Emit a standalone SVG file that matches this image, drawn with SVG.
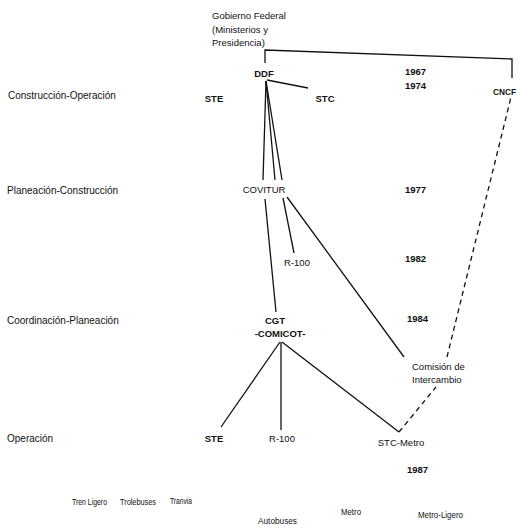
<svg xmlns="http://www.w3.org/2000/svg" width="520" height="528" viewBox="0 0 520 528">
<style>
text{font-family:"Liberation Sans",Arial,sans-serif;fill:#111;}
.lvl{font-size:10px;}
.b{font-size:9.5px;font-weight:bold;}
.r{font-size:9.5px;}
.yr{font-size:9.5px;font-weight:bold;}
.t{font-size:9.5px;}
.ln{stroke:#111;stroke-width:1.3;fill:none;}
.dash{stroke:#111;stroke-width:1.3;fill:none;stroke-dasharray:5,4;}
</style>
<rect width="520" height="528" fill="#fff"/>
<g id="levels">
<text class="lvl" x="8" y="99">Construcción-Operación</text>
<text class="lvl" x="7" y="194">Planeación-Construcción</text>
<text class="lvl" x="7" y="324">Coordinación-Planeación</text>
<text class="lvl" x="7" y="442">Operación</text>
</g>
<g id="years">
<text class="yr" x="405" y="75">1967</text>
<text class="yr" x="405" y="89">1974</text>
<text class="yr" x="405" y="193">1977</text>
<text class="yr" x="405" y="262">1982</text>
<text class="yr" x="407" y="322">1984</text>
<text class="yr" x="407" y="473">1987</text>
</g>
<g id="connectors">
<polyline class="ln" points="265,63 265,50 512,59 512,78"/>
<line class="ln" x1="267" y1="80" x2="308" y2="88"/>
<line class="ln" x1="266" y1="81" x2="263" y2="180"/>
<line class="ln" x1="266" y1="81" x2="275" y2="180"/>
<line class="ln" x1="266" y1="81" x2="282" y2="180"/>
<line class="ln" x1="265" y1="199" x2="276" y2="312"/>
<line class="ln" x1="283" y1="198" x2="294" y2="253"/>
<line class="ln" x1="287" y1="197" x2="404" y2="357"/>
<line class="ln" x1="280" y1="342" x2="221" y2="427"/>
<line class="ln" x1="281" y1="342" x2="281" y2="430"/>
<line class="ln" x1="282" y1="342" x2="399" y2="432"/>
<line class="dash" x1="399" y1="432" x2="436" y2="387"/>
<line class="dash" x1="447" y1="357" x2="511" y2="97"/>
</g>
<g id="gobierno">
<text class="r" x="212" y="19">Gobierno Federal</text>
<text class="r" x="212" y="33">(Ministerios y</text>
<text class="r" x="212" y="46">Presidencia)</text>
</g>
<g id="ddf"><text class="b" x="264" y="77" text-anchor="middle">DDF</text></g>
<g id="ste-top"><text class="b" x="214" y="102" text-anchor="middle">STE</text></g>
<g id="stc"><text class="b" x="325" y="102" text-anchor="middle">STC</text></g>
<g id="cncf"><text class="b" x="493" y="95" textLength="23" lengthAdjust="spacingAndGlyphs">CNCF</text></g>
<g id="covitur"><text class="r" x="264" y="193" text-anchor="middle">COVITUR</text></g>
<g id="r100-mid"><text class="r" x="297" y="266" text-anchor="middle">R-100</text></g>
<g id="cgt">
<text class="b" x="275" y="324" text-anchor="middle">CGT</text>
<text class="b" x="280" y="337" text-anchor="middle">-COMICOT-</text>
</g>
<g id="comision">
<text class="r" x="412" y="370">Comisión de</text>
<text class="r" x="412" y="383">Intercambio</text>
</g>
<g id="ste-op"><text class="b" x="214" y="442" text-anchor="middle">STE</text></g>
<g id="r100-op"><text class="r" x="282" y="442" text-anchor="middle">R-100</text></g>
<g id="stcmetro"><text class="r" x="401" y="446" text-anchor="middle">STC-Metro</text></g>
<g id="modes">
<text class="t" x="72" y="505" textLength="35" lengthAdjust="spacingAndGlyphs">Tren Ligero</text>
<text class="t" x="120" y="505" textLength="36" lengthAdjust="spacingAndGlyphs">Trolebuses</text>
<text class="t" x="170" y="504" textLength="22" lengthAdjust="spacingAndGlyphs">Tranvia</text>
<text class="t" x="258" y="524" textLength="39" lengthAdjust="spacingAndGlyphs">Autobuses</text>
<text class="t" x="341" y="515" textLength="20" lengthAdjust="spacingAndGlyphs">Metro</text>
<text class="t" x="418" y="518" textLength="45" lengthAdjust="spacingAndGlyphs">Metro-Ligero</text>
</g>
</svg>
